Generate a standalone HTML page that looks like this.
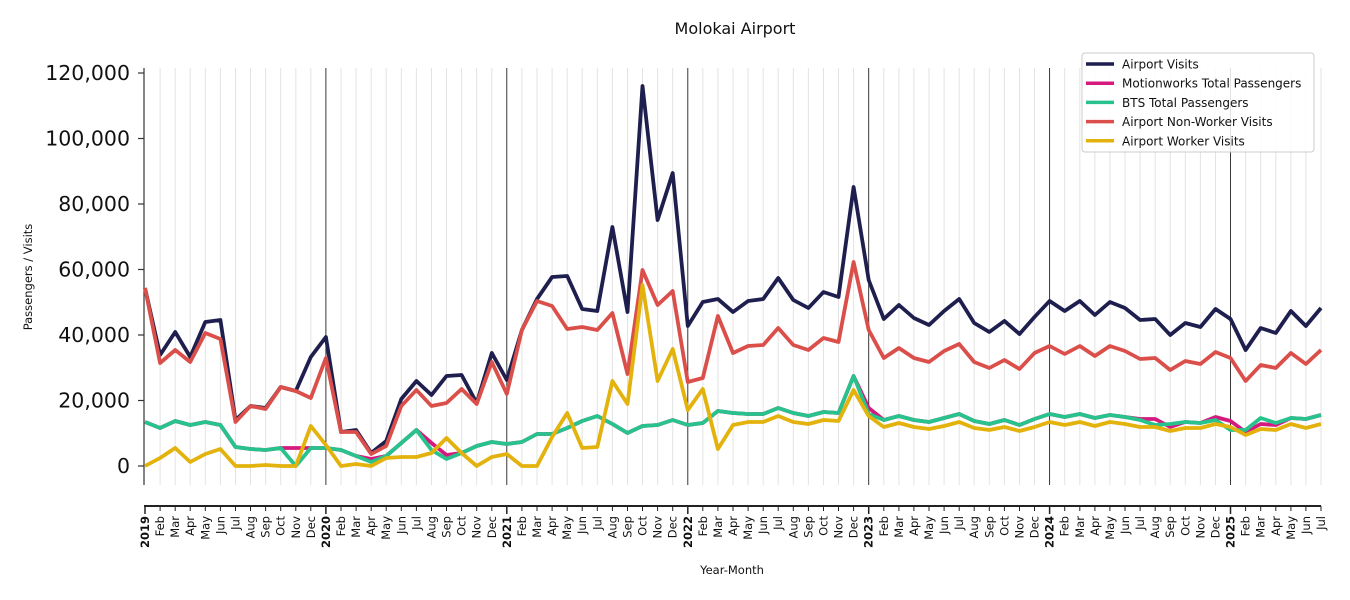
<!DOCTYPE html><html><head><meta charset="utf-8"><style>body{margin:0;background:#fff}svg{display:block;font-family:"DejaVu Sans","Liberation Sans",sans-serif}</style></head><body>
<svg id="s" width="1350" height="600" xmlns="http://www.w3.org/2000/svg"></svg>
<script>
const s=document.getElementById('s');let h='';
const X=i=>145+i*15.077;
const av=[288,355,332,357,322,320,420,406,408,387,391,357,337,432,430,453,441,399,381,395,376,375,403,353,380,330,299,277,276,309,311,227,312,86,220,173,326,302,299,312,301,299,278,300,308,292,297,187,280,319,305,318,325,311,299,323,332,321,334,317,301,311,301,315,302,308,320,319,335,323,327,309,319,350,328,333,311,326,308];
const nw=[288,363,350,362,333,339,422,406,409,387,391,398,358,432,432,454,446,406,390,406,403,389,404,362,394,330,301,306,329,327,330,313,374,270,305,291,382,378,316,353,346,345,328,345,350,338,342,262,330,358,348,358,362,351,344,362,368,360,369,353,346,354,346,356,346,351,359,358,370,361,364,352,358,381,365,368,353,364,350];
const bt=[422,428,421,425,422,425,447,449,450,448,466,448,448,450,456,462,456,443,430,450,459,453,446,442,444,442,434,434,428,421,416,424,433,426,425,420,425,423,411,413,414,414,408,413,416,412,413,376,414,420,416,420,422,418,414,421,424,420,425,419,414,417,414,418,415,417,420,425,424,422,423,420,430,430,418,423,418,419,415];
const mw=bt.slice();Object.assign(mw,{10:448,11:448,15:459,19:443,20:455,48:408,66:419,67:419,68:427,71:417,72:421,73:432,74:424,75:425});
const wk=[466,458,448,462,454,449,466,466,465,466,466,426,445,466,464,466,458,457,457,453,438,453,466,457,454,466,466,437,413,448,447,381,404,285,381,349,410,389,449,425,422,422,416,422,424,420,421,390,416,427,423,427,429,426,422,428,430,427,431,427,422,425,422,426,422,424,427,427,431,428,428,424,427,435,429,430,424,428,424];
const M=['Jan','Feb','Mar','Apr','May','Jun','Jul','Aug','Sep','Oct','Nov','Dec'];
for(let i=0;i<=78;i++){const x=X(i).toFixed(1);const yr=i%12==0;
 if(!yr)h+=`<line x1="${x}" y1="68" x2="${x}" y2="485" stroke="#e3e3e3" stroke-width="1"/>`;
 h+=`<line x1="${x}" y1="506" x2="${x}" y2="${yr?514:511}" stroke="#222" stroke-width="${yr?1.5:1}"/>`;
 const lab=yr?(2019+i/12):M[i%12];
 h+=`<text transform="translate(${(X(i)+4).toFixed(1)},516) rotate(-90)" text-anchor="end" font-size="11.5" ${yr?'font-weight="bold"':''} fill="#111">${lab}</text>`;}
for(let y=0;y<=6;y++){const x=X(y*12).toFixed(1);if(y>0)h+=`<line x1="${x}" y1="68" x2="${x}" y2="485" stroke="#222" stroke-width="0.9"/>`;}
h+=`<line x1="144" y1="68" x2="144" y2="485" stroke="#333" stroke-width="1.2"/><line x1="144" y1="506" x2="1321" y2="506" stroke="#222" stroke-width="2"/>`;
for(let k=0;k<=6;k++){const y=466-k*65.5;h+=`<line x1="138" y1="${y}" x2="144" y2="${y}" stroke="#333" stroke-width="1.2"/><text x="130" y="${y+7}" text-anchor="end" font-size="20.5" fill="#111">${(k*20000).toLocaleString('en-US')}</text>`;}
const line=(d,c)=>{h+=`<polyline fill="none" stroke="${c}" stroke-width="3.8" stroke-linejoin="round" points="${d.map((v,i)=>X(i).toFixed(1)+','+v).join(' ')}"/>`;};
line(av,'#1f1f4f');line(mw,'#d6197f');line(bt,'#28c28c');line(nw,'#db4f4b');line(wk,'#e3b20c');
h+=`<text x="735" y="34" text-anchor="middle" font-size="16" fill="#111">Molokai Airport</text>`;
h+=`<text x="732" y="574" text-anchor="middle" font-size="11.5" fill="#111">Year-Month</text>`;
h+=`<text transform="translate(32,277) rotate(-90)" text-anchor="middle" font-size="11.5" fill="#111">Passengers / Visits</text>`;
h+=`<rect x="1082" y="53" width="232" height="99" rx="3" fill="#fff" fill-opacity="0.85" stroke="#ccc"/>`;
[['Airport Visits','#1f1f4f'],['Motionworks Total Passengers','#d6197f'],['BTS Total Passengers','#28c28c'],['Airport Non-Worker Visits','#db4f4b'],['Airport Worker Visits','#e3b20c']].forEach((e,j)=>{const y=64+j*19.2;h+=`<line x1="1086" y1="${y}" x2="1114" y2="${y}" stroke="${e[1]}" stroke-width="3.5"/><text x="1122" y="${y+4.5}" font-size="12" fill="#111">${e[0]}</text>`;});
s.innerHTML=h;
</script></body></html>
